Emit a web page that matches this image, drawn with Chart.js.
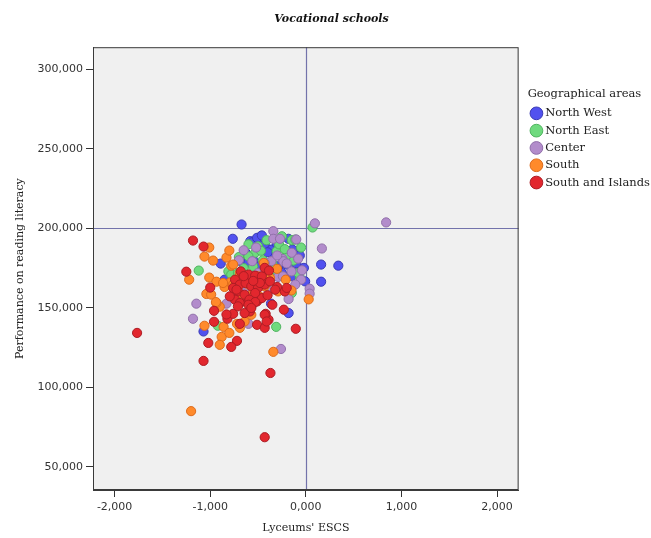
<!DOCTYPE html>
<html>
<head>
<meta charset="utf-8">
<title>Vocational schools</title>
<script src="https://cdn.jsdelivr.net/npm/chart.js@4.4.0/dist/chart.umd.min.js"></script>
<style>
    html, body { margin: 0; padding: 0; background: #fff; }
    #wrap { width: 651px; height: 538px; }
</style>
</head>
<body>
<div id="wrap"><canvas id="scatterChart" width="651" height="538"></canvas></div>
<script>
// Scatter of Lyceums' ESCS vs reading score, one series per area
const areaNames = ['North West', 'North East', 'Center', 'South', 'South and Islands'];

const northWest = [
    [-0.672, 202.5], [-0.764, 193.5], [-0.581, 192.0], [-0.47, 195.1], [-0.462, 192.0],
    [-0.557, 191.4], [-0.182, 193.5], [-0.14, 186.7], [-0.063, 183.0], [-0.347, 186.7],
    [-0.34, 184.2], [-0.63, 184.7], [-0.68, 179.4], [-0.60, 178.7], [-0.89, 177.9],
    [-0.20, 177.3], [-0.11, 174.1], [-0.02, 175.2], [-0.007, 166.7], [-0.364, 152.7],
    [-0.18, 146.8], [-1.07, 135.2], [-0.43, 189.9], [-0.51, 194.1], [-0.29, 176.2],
    [-0.50, 176.2], [-0.74, 167.8], [-0.85, 167.8], [0.16, 177.3], [0.34, 176.6],
    [0.16, 166.5], [-0.46, 195.6], [-0.36, 186.7], [-0.55, 180.0], [-0.25, 172.0],
    [-0.15, 170.0], [-0.40, 185.0], [-0.30, 190.0], [-0.10, 178.0]
];

const northEast = [
    [0.07, 200.6], [-1.12, 173.5], [-0.31, 138.1], [-0.92, 138.8], [-0.41, 192.6],
    [-0.25, 195.1], [-0.147, 192.6], [-0.50, 188.8], [-0.53, 184.7], [-0.60, 182.5],
    [-0.305, 185.7], [-0.13, 179.8], [-0.81, 173.0], [-0.78, 171.0], [-0.71, 172.0],
    [-0.29, 171.0], [-0.147, 159.4], [-0.06, 168.9], [-0.43, 173.0], [-0.11, 193.0],
    [-0.55, 176.0], [-0.45, 180.0], [-0.35, 178.0], [-0.65, 175.0], [-0.20, 183.0],
    [-0.70, 182.0], [-0.38, 170.0], [-0.05, 188.0], [-0.28, 190.0], [-0.60, 190.0],
    [-0.47, 186.0], [-0.22, 187.0], [-0.08, 172.0], [-0.52, 170.5]
];

const center = [
    [0.84, 203.8], [0.095, 203.2], [0.168, 187.4], [-1.145, 152.7], [-1.18, 143.2],
    [-0.26, 124.2], [0.04, 162.1], [0.04, 159.0], [-0.34, 198.3], [-0.34, 193.5],
    [-0.27, 193.5], [-0.10, 193.1], [-0.147, 184.7], [-0.245, 180.9], [-0.235, 179.4],
    [-0.36, 179.4], [-0.56, 179.4], [-0.65, 186.3], [-0.43, 178.3], [-0.04, 173.7],
    [-0.15, 173.0], [-0.05, 167.8], [-0.11, 164.7], [-0.18, 155.6], [-0.39, 161.0],
    [-0.60, 140.0], [-0.83, 152.7], [-0.29, 169.5], [-0.50, 172.0], [-0.24, 169.9],
    [-0.70, 180.0], [-0.55, 170.0], [-0.45, 165.0], [-0.62, 160.0], [-0.75, 158.0],
    [-0.20, 178.0], [-0.30, 183.0], [-0.52, 188.0], [-0.08, 181.0]
];

const south = [
    [-1.20, 85.1], [-0.34, 122.4], [0.03, 155.4], [-1.22, 167.8], [-1.06, 182.3],
    [-1.01, 188.0], [-0.97, 179.8], [-0.83, 181.7], [-0.80, 186.1], [-1.06, 138.8],
    [-0.86, 138.1], [-0.88, 131.8], [-0.90, 126.8], [-0.80, 134.3], [-0.69, 137.5],
    [-0.90, 150.8], [-1.01, 169.1], [-0.935, 166.5], [-0.78, 176.6], [-1.04, 158.8],
    [-0.99, 158.4], [-0.935, 153.1], [-0.85, 163.2], [-0.79, 166.1], [-0.69, 172.0],
    [-0.60, 164.7], [-0.64, 154.1], [-0.57, 145.7], [-0.44, 178.3], [-0.30, 174.6],
    [-0.21, 167.8], [-0.15, 161.0], [-0.72, 140.0], [-0.76, 177.3], [-0.50, 169.9],
    [-0.43, 163.6], [-0.71, 155.2], [-0.375, 168.9], [-0.29, 160.4], [-0.865, 165.7],
    [-0.76, 164.7], [-0.94, 153.7], [-0.64, 141.5], [-0.55, 160.0], [-0.48, 157.0],
    [-0.66, 168.0], [-0.58, 150.0]
];

const southIslands = [
    [-1.765, 134.3], [-0.43, 68.7], [-1.07, 116.7], [-0.37, 109.1], [-1.18, 192.4],
    [-1.07, 188.6], [-1.25, 172.8], [-1.00, 162.8], [-0.96, 148.2], [-0.96, 141.3],
    [-1.02, 128.0], [-0.72, 129.3], [-0.78, 125.5], [-0.82, 143.2], [-0.51, 139.4],
    [-0.43, 137.5], [-0.105, 136.9], [-0.23, 148.9], [-0.39, 142.6], [-0.42, 146.3],
    [-0.76, 146.3], [-0.69, 140.0], [-0.83, 145.9], [-0.68, 173.0], [-0.60, 171.0],
    [-0.53, 170.3], [-0.46, 169.9], [-0.43, 175.2], [-0.385, 173.5], [-0.74, 167.8],
    [-0.69, 164.7], [-0.63, 165.7], [-0.57, 163.6], [-0.50, 162.6], [-0.43, 164.7],
    [-0.375, 166.7], [-0.30, 163.2], [-0.22, 160.4], [-0.71, 160.4], [-0.74, 155.2],
    [-0.69, 153.1], [-0.60, 155.2], [-0.57, 151.0], [-0.51, 154.1], [-0.46, 156.2],
    [-0.64, 158.3], [-0.585, 147.8], [-0.795, 157.3], [-0.76, 162.6], [-0.48, 165.7],
    [-0.32, 161.5], [-0.20, 162.6], [-0.53, 159.4], [-0.71, 151.0], [-0.64, 146.8],
    [-0.43, 145.7], [-0.41, 141.5], [-0.725, 161.5], [-0.59, 155.2], [-0.53, 153.7],
    [-0.60, 152.0], [-0.57, 150.0], [-0.65, 170.0], [-0.55, 167.0], [-0.40, 158.0],
    [-0.35, 152.0]
];

const xTickValues = [-2, -1, 0, 1, 2];
const yTickValues = [50, 100, 150, 200, 250, 300];
const refLineX = 0;
const refLineY = 200;

const fillColors = ['#5151ef', '#6fda7e', '#b28ccb', '#ff8a2b', '#e2272e'];
const edgeColors = ['#3a3ab5', '#50b460', '#9170aa', '#dd6b1c', '#ad1c24'];
const seriesData = [northWest, northEast, center, south, southIslands];

// comma as decimal separator, three decimals (SPSS style)
function commaFixed(v) {
    return Number(v).toFixed(3).replace('.', ',');
}

// grey plot background, reference lines, frame
const plotFrame = {
    id: 'plotFrame',
    afterLayout(chart) {
        // legend sits a bit away from the plot, like the original
        const lg = chart.legend;
        const w = lg.right - lg.left;
        lg.left = chart.chartArea.right + 9;
        lg.right = lg.left + w;
    },
    beforeDraw(chart) {
        const { ctx, chartArea: a } = chart;
        ctx.save();
        ctx.fillStyle = '#ffffff';
        ctx.fillRect(0, 0, chart.width, chart.height);
        ctx.fillStyle = '#f0f0f0';
        ctx.fillRect(a.left, a.top, a.right - a.left, a.bottom - a.top);
        ctx.restore();
    },
    beforeDatasetsDraw(chart) {
        const { ctx, chartArea: a, scales } = chart;
        const px = Math.round(scales.x.getPixelForValue(refLineX)) + 0.5;
        const py = Math.round(scales.y.getPixelForValue(refLineY)) + 0.5;
        ctx.save();
        ctx.strokeStyle = '#7373ab';
        ctx.lineWidth = 1.2;
        ctx.beginPath();
        ctx.moveTo(px, a.top);
        ctx.lineTo(px, a.bottom);
        ctx.moveTo(a.left, py);
        ctx.lineTo(a.right, py);
        ctx.stroke();
        ctx.restore();
    },
    afterDatasetsDraw(chart) {
        const { ctx, chartArea: a } = chart;
        ctx.save();
        ctx.strokeStyle = '#3a3a3a';
        ctx.lineWidth = 1;
        ctx.strokeRect(a.left + 0.5, a.top + 0.5, a.right - a.left - 1, a.bottom - a.top - 1);
        ctx.restore();
    }
};

const datasets = areaNames.map((name, i) => ({
    label: name,
    data: seriesData[i].map(p => ({ x: p[0], y: p[1] })),
    backgroundColor: fillColors[i],
    borderColor: edgeColors[i],
    borderWidth: 1,
    pointRadius: 4.6,
    order: areaNames.length - i
}));

const ctx = document.getElementById('scatterChart').getContext('2d');
const scatterChart = new Chart(ctx, {
    type: 'scatter',
    data: { datasets: datasets },
    plugins: [plotFrame],
    options: {
        responsive: false,
        animation: false,
        devicePixelRatio: 1,
        events: [],
        layout: { padding: { left: 12, right: 0, top: 0, bottom: 0 } },
        scales: {
            x: {
                type: 'linear',
                min: -2.226,
                max: 2.226,
                afterBuildTicks: s => { s.ticks = xTickValues.map(v => ({ value: v })); },
                afterFit: s => { s.height = 48; },
                grid: { display: true, drawOnChartArea: false, drawTicks: true, tickLength: 7, tickColor: '#333', tickWidth: 1 },
                border: { display: true, color: '#3a3a3a' },
                ticks: {
                    padding: 4,
                    color: '#333',
                    maxRotation: 0,
                    autoSkip: false,
                    font: { family: 'DejaVu Sans', size: 11 },
                    callback: v => commaFixed(v)
                },
                title: {
                    display: true,
                    text: "Lyceums' ESCS",
                    color: '#222',
                    font: { family: 'DejaVu Serif', size: 11 },
                    padding: { top: 4, bottom: 3 }
                }
            },
            y: {
                type: 'linear',
                min: 35.5,
                max: 314,
                afterBuildTicks: s => { s.ticks = yTickValues.map(v => ({ value: v })); },
                afterFit: s => { s.width = 81; },
                grid: { display: true, drawOnChartArea: false, drawTicks: true, tickLength: 7, tickColor: '#333', tickWidth: 1 },
                border: { display: true, color: '#3a3a3a' },
                ticks: {
                    padding: 3,
                    color: '#333',
                    font: { family: 'DejaVu Sans', size: 11 },
                    callback: v => commaFixed(v)
                },
                title: {
                    display: true,
                    text: 'Performance on reading literacy',
                    color: '#222',
                    font: { family: 'DejaVu Serif', size: 11 },
                    padding: { top: 1.4, bottom: 4 }
                }
            }
        },
        plugins: {
            title: {
                display: true,
                text: 'Vocational schools',
                color: '#111',
                font: { family: 'DejaVu Serif', size: 11, weight: 'bold', style: 'italic' },
                padding: { top: 13, bottom: 21 }
            },
            legend: {
                display: true,
                position: 'right',
                align: 'start',
                labels: {
                    usePointStyle: true,
                    pointStyle: 'circle',
                    boxWidth: 6,
                    boxHeight: 9,
                    padding: 5.8,
                    color: '#222',
                    font: { family: 'DejaVu Serif', size: 11.5 },
                    sort: (a, b) => a.datasetIndex - b.datasetIndex
                },
                title: {
                    display: true,
                    text: 'Geographical areas',
                    position: 'start',
                    color: '#222',
                    font: { family: 'DejaVu Serif', size: 11.5 },
                    padding: { top: 88, bottom: 0 }
                }
            },
            tooltip: { enabled: false }
        }
    }
});
</script>
</body>
</html>
